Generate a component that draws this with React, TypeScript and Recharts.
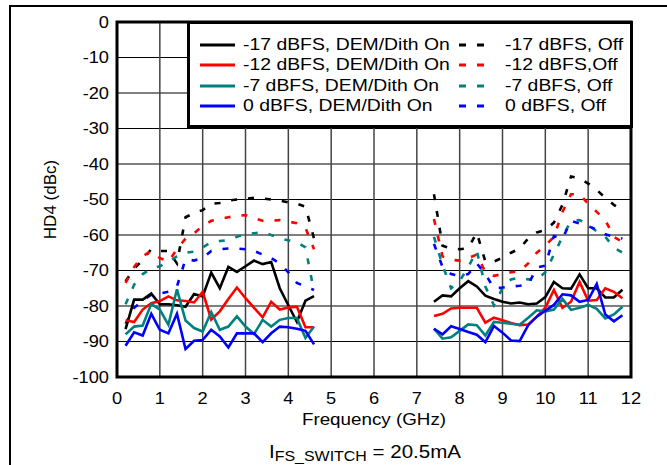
import { LineChart, Line, XAxis, YAxis, CartesianGrid, ReferenceArea } from "recharts";

const FONT = '"Liberation Sans", Arial, Helvetica, sans-serif';

// frequency points (GHz) for the two measured bands
const freqLow = [0.2, 0.4, 0.6, 0.8, 1.0, 1.2, 1.4, 1.6, 1.8, 2.0, 2.2, 2.4, 2.6, 2.8, 3.0, 3.2, 3.4, 3.6, 3.8, 4.0, 4.2, 4.4, 4.6];
const freqHigh = [7.4, 7.6, 7.8, 8.0, 8.2, 8.4, 8.6, 8.8, 9.0, 9.2, 9.4, 9.6, 9.8, 10.0, 10.2, 10.4, 10.6, 10.8, 11.0, 11.2, 11.4, 11.6, 11.8];

// DEM/Dith On (solid)
const on17Low = [-86.5, -78.2, -78.2, -76.5, -79.5, -79.5, -79.8, -80.2, -76.6, -77.3, -70.6, -75, -69, -70.4, -68.8, -67.2, -68.2, -67.6, -75, -79.8, -84.5, -78.5, -77.2];
const on12Low = [-84, -84.5, -81, -79.2, -78.6, -77.3, -78.4, -78.6, -79, -76, -83.8, -81.5, -78, -74.8, -77.8, -80.5, -83.2, -78.8, -81, -80.4, -80.2, -86, -86];
const on7Low = [-88, -85.8, -85.5, -79.4, -81, -85.3, -75.3, -84.1, -86.2, -87.2, -81.7, -86.7, -85.8, -82.9, -85.8, -87.9, -83.9, -85.8, -83.9, -83.4, -83.4, -89, -85.8];
const on0Low = [-91.2, -87.4, -88.3, -82.2, -86.7, -87.7, -82.2, -92.1, -89.8, -89.6, -86.7, -88.6, -91.7, -87.7, -87.7, -87.7, -90.2, -87.7, -85.8, -86, -86.4, -87, -90.8];

const on17High = [-78.8, -77, -77.3, -75, -73, -74.5, -77.1, -78, -78.8, -79.3, -79, -79.5, -79.3, -77.5, -73.2, -75, -75.1, -71.1, -75, -75, -77.6, -77.6, -75.4];
const on12High = [-82.8, -82.2, -80.7, -80.5, -80.5, -80.5, -84.7, -83.3, -84, -84.8, -85.4, -85.2, -83, -80.5, -75.5, -80.5, -78.8, -73.2, -78.5, -78.3, -75, -76, -77.8];
const on7High = [-86.4, -89.2, -88.8, -87, -85.2, -85.4, -88.3, -84.5, -84.7, -85, -85.3, -83.3, -81.2, -81.5, -81, -78, -81.1, -80.5, -79.7, -80.8, -83.5, -82.4, -80.2];
const on0High = [-86.4, -88, -85.7, -86.5, -87.3, -88.1, -90.2, -85.6, -87.5, -89.7, -89.9, -85.4, -83, -81.3, -79.7, -76.7, -77, -78.8, -78.3, -73.8, -82.4, -84.3, -82.6];

// DEM/Dith Off (dashed)
const off17Low = [-73, -69.5, -67, -64, -64.5, -64.5, -68, -55, -53.8, -53, -51.2, -51, -50.3, -50, -49.8, -49.5, -49.7, -50, -50.3, -50.8, -51.2, -52, -61];
const off12Low = [-73.5, -69, -66, -64.5, -66.5, -67.5, -64, -61, -59.5, -57.5, -56, -55.5, -55, -54.6, -54.4, -55.3, -56, -56, -55.8, -56.2, -56.7, -58, -64];
const off7Low = [-79.5, -74, -71, -69.5, -68.8, -67.5, -66, -65, -64.7, -63.5, -62, -61.7, -61.4, -60.5, -59.8, -59.5, -59.2, -60, -61, -61.5, -62, -63.5, -76];
const off0Low = [-85, -80.5, -78.5, -76.8, -76.5, -76, -74.5, -66.8, -67.2, -66.5, -64.5, -64, -63.8, -63.8, -64, -64.5, -65.5, -66.5, -68, -70.5, -73.5, -74.5, -75.5];

const off17High = [-48.5, -63, -63.8, -64, -63.7, -59.3, -67.5, -67.5, -66.4, -65, -63.8, -61, -59.3, -58.6, -56.5, -51.5, -43.5, -44, -45.5, -47.3, -49.5, -51.5, -53];
const off12High = [-55.5, -66, -67, -67.2, -66.5, -65.5, -70.5, -71.5, -71, -70.5, -70.2, -68, -65, -63, -60.5, -53.5, -48.5, -48.5, -51.2, -53.5, -55.8, -60.5, -62];
const off7High = [-60.5, -68.5, -75, -73, -69, -64.5, -74.5, -79.8, -75, -72.5, -72, -72.5, -72.5, -70.5, -65.5, -60.5, -56, -55.8, -57, -59, -60.5, -63.5, -65];
const off0High = [-62.5, -69, -71, -71.5, -71, -68, -71, -75, -74.8, -74.5, -74.3, -74, -69.2, -68.6, -60.3, -61, -56, -56.8, -57.5, -58.5, -59.8, -60.5, -61];

const xTicks = [0, 1, 2, 3, 4, 5, 6, 7, 8, 9, 10, 11, 12];
const yTicks = [-100, -90, -80, -70, -60, -50, -40, -30, -20, -10, 0];

const series = [
  { key: "off17", low: off17Low, high: off17High, color: "#000000", dashed: true },
  { key: "off12", low: off12Low, high: off12High, color: "#ff0000", dashed: true },
  { key: "off7", low: off7Low, high: off7High, color: "#008080", dashed: true },
  { key: "off0", low: off0Low, high: off0High, color: "#0000ff", dashed: true },
  { key: "on17", low: on17Low, high: on17High, color: "#000000", dashed: false },
  { key: "on12", low: on12Low, high: on12High, color: "#ff0000", dashed: false },
  { key: "on7", low: on7Low, high: on7High, color: "#008080", dashed: false },
  { key: "on0", low: on0Low, high: on0High, color: "#0000ff", dashed: false },
];

const legendRows = [
  { on: "-17 dBFS, DEM/Dith On", off: "-17 dBFS, Off", color: "#000000" },
  { on: "-12 dBFS, DEM/Dith On", off: "-12 dBFS,Off", color: "#ff0000" },
  { on: "-7 dBFS, DEM/Dith On", off: "-7 dBFS, Off", color: "#008080" },
  { on: "0 dBFS, DEM/Dith On", off: "0 dBFS, Off", color: "#0000ff" },
];

function buildRows(freqs: number[], band: "low" | "high") {
  return freqs.map((f, i) => {
    const row: Record<string, number> = { f };
    series.forEach((s) => {
      row[s.key] = s[band][i];
    });
    return row;
  });
}

// empty row at 6 GHz breaks every line between the two bands
const chartData = [...buildRows(freqLow, "low"), { f: 6 }, ...buildRows(freqHigh, "high")];

// the source picture is stretched a little horizontally
const SX = 1.14;

function XTick({ x, y, payload }: any) {
  return (
    <text
      transform={`translate(${x},${y}) scale(${SX},1)`}
      textAnchor="middle"
      dy="0.71em"
      fontSize={16}
      fontFamily={FONT}
      fill="#000"
    >
      {payload.value}
    </text>
  );
}

function YTick({ x, y, payload }: any) {
  return (
    <text
      transform={`translate(${x},${y}) scale(${SX},1)`}
      textAnchor="end"
      dy="0.36em"
      fontSize={16}
      fontFamily={FONT}
      fill="#000"
    >
      {payload.value}
    </text>
  );
}

function XTitles({ viewBox }: any) {
  const cx = viewBox.x + viewBox.width / 2;
  const top = viewBox.y;
  return (
    <g fontFamily={FONT} fill="#000">
      <text transform={`translate(${cx},${top + 48}) scale(${SX},1)`} textAnchor="middle" fontSize={16.5}>
        Frequency (GHz)
      </text>
      <text transform={`translate(${cx - 105},${top + 81}) scale(${SX},1)`} textAnchor="start" fontSize={18}>
        I
        <tspan fontSize={14} dy={2.5}>FS_SWITCH</tspan>
        <tspan fontSize={18} dy={-2.5}> = 20.5mA</tspan>
      </text>
    </g>
  );
}

function YTitle({ viewBox }: any) {
  const cy = viewBox.y + viewBox.height / 2;
  return (
    <text
      transform={`translate(${viewBox.x},${cy}) rotate(-90)`}
      textAnchor="middle"
      dy="0.36em"
      fontSize={17}
      fontFamily={FONT}
      fill="#000"
    >
      HD4 (dBc)
    </text>
  );
}

function LegendBox() {
  const text = {
    position: "absolute" as const,
    fontSize: 17,
    fontFamily: FONT,
    lineHeight: "20px",
    whiteSpace: "nowrap" as const,
    transform: `scaleX(${SX})`,
    transformOrigin: "left center",
  };
  return (
    <div
      style={{
        position: "absolute",
        left: 187,
        top: 21,
        width: 446,
        height: 107,
        boxSizing: "border-box",
        border: "3px solid #000",
        background: "#fff",
      }}
    >
      {legendRows.map((r, i) => {
        const cy = 21 + i * 20.3;
        return (
          <div key={r.on}>
            <svg style={{ position: "absolute", left: 10, top: cy - 3 }} width={300} height={6}>
              <line x1={0} y1={3} x2={35} y2={3} stroke={r.color} strokeWidth={3} />
              <line x1={259} y1={3} x2={285} y2={3} stroke={r.color} strokeWidth={3} strokeDasharray="7 11" />
            </svg>
            <span style={{ ...text, left: 53, top: cy - 10 }}>{r.on}</span>
            <span style={{ ...text, left: 315, top: cy - 10 }}>{r.off}</span>
          </div>
        );
      })}
    </div>
  );
}

export default function App() {
  return (
    <div style={{ position: "absolute", left: 0, top: 0, width: 667, height: 465, background: "#fff", overflow: "hidden" }}>
      <div
        style={{
          position: "absolute",
          left: 9,
          top: 5,
          width: 700,
          height: 500,
          borderTop: "2px solid #000",
          borderLeft: "2px solid #000",
        }}
      />
      <LineChart
        width={667}
        height={465}
        data={chartData}
        margin={{ top: 22, right: 36, left: 50, bottom: 58 }}
        style={{ position: "absolute", left: 0, top: 0 }}
      >
        <CartesianGrid vertical={false} stroke="#000" strokeWidth={1.2} />
        <CartesianGrid horizontal={false} stroke="#444" strokeWidth={1.5} />
        <XAxis
          dataKey="f"
          type="number"
          domain={[0, 12]}
          ticks={xTicks}
          interval={0}
          height={30}
          tickLine={false}
          axisLine={false}
          tickMargin={10}
          tick={XTick}
          label={XTitles}
        />
        <YAxis
          type="number"
          domain={[-100, 0]}
          ticks={yTicks}
          interval={0}
          width={67}
          tickLine={false}
          axisLine={false}
          tick={YTick}
          label={YTitle}
        />
        {series.map((s) => (
          <Line
            key={s.key}
            type="linear"
            dataKey={s.key}
            stroke={s.color}
            strokeWidth={2.6}
            strokeDasharray={s.dashed ? "6 11" : undefined}
            dot={false}
            activeDot={false}
            isAnimationActive={false}
          />
        ))}
        <ReferenceArea x1={0} x2={12} y1={-100} y2={0} fill="none" fillOpacity={0} stroke="#000" strokeWidth={3} />
      </LineChart>
      <LegendBox />
    </div>
  );
}
